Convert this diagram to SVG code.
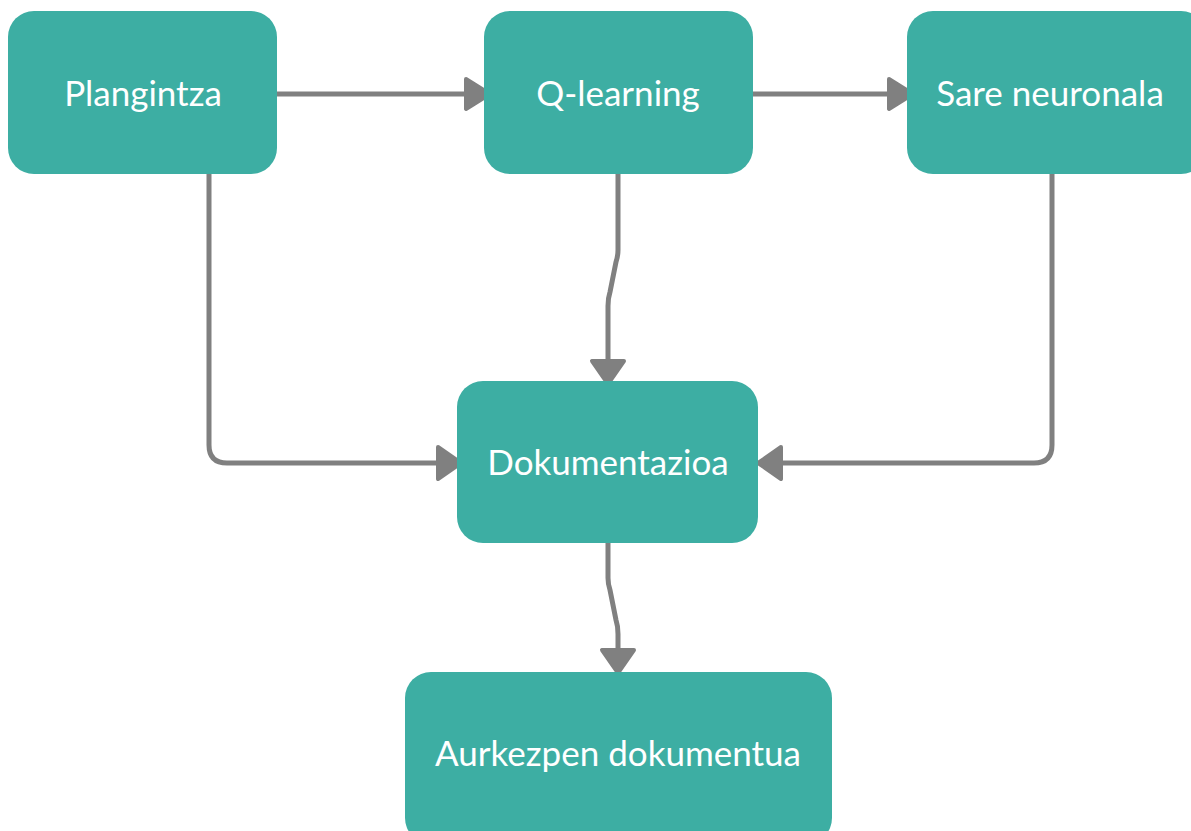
<svg xmlns="http://www.w3.org/2000/svg" width="1191" height="831" viewBox="0 0 1191 831">
<style>
.box{fill:#3DAEA3;}
.lbl{fill:#ffffff;font-family:Lato,"Noto Sans",sans-serif;font-size:35px;text-anchor:middle;}
.con{fill:none;stroke:#808080;stroke-width:5;stroke-linejoin:round;stroke-linecap:round;}
.head{fill:#808080;stroke:#808080;stroke-width:4;stroke-linejoin:round;}
</style>
<rect width="1191" height="831" fill="#ffffff"/>
<g id="connectors">
<path class="con" d="M275,94 H466"/>
<polygon class="head" points="466,79 490,94 466,109"/>
<path class="con" d="M750,94 H889"/>
<polygon class="head" points="889,79 913,94 889,109"/>
<path class="con" d="M618,174 V250 Q618,256 616,262 L610,292 Q608,298 608,306 V362"/>
<polygon class="head" points="592,361 624,361 608,384"/>
<path class="con" d="M608,543 V578 Q608,584 610,590 L616,620 Q618,626 618,634 V650"/>
<polygon class="head" points="602,650 634,650 618,673"/>
<path class="con" d="M209,174 V445 Q209,463 227,463 H438"/>
<polygon class="head" points="438,447 461,463 438,479"/>
<path class="con" d="M1052,174 V445 Q1052,463 1034,463 H781"/>
<polygon class="head" points="781,447 758,463 781,479"/>
</g>
<g id="node-plangintza">
<rect class="box" x="8" y="11" width="269" height="163" rx="26"/>
<text class="lbl" x="143" y="106">Plangintza</text>
</g>
<g id="node-qlearning">
<rect class="box" x="484" y="11" width="269" height="163" rx="26"/>
<text class="lbl" x="618" y="106">Q-learning</text>
</g>
<g id="node-sare">
<rect class="box" x="907" y="11" width="300" height="163" rx="26"/>
<text class="lbl" x="1050" y="106">Sare neuronala</text>
</g>
<g id="node-dokumentazioa">
<rect class="box" x="457" y="381" width="301" height="162" rx="26"/>
<text class="lbl" x="608" y="475">Dokumentazioa</text>
</g>
<g id="node-aurkezpen">
<rect class="box" x="405" y="672" width="427" height="172" rx="26"/>
<text class="lbl" x="618" y="766">Aurkezpen dokumentua</text>
</g>
</svg>
